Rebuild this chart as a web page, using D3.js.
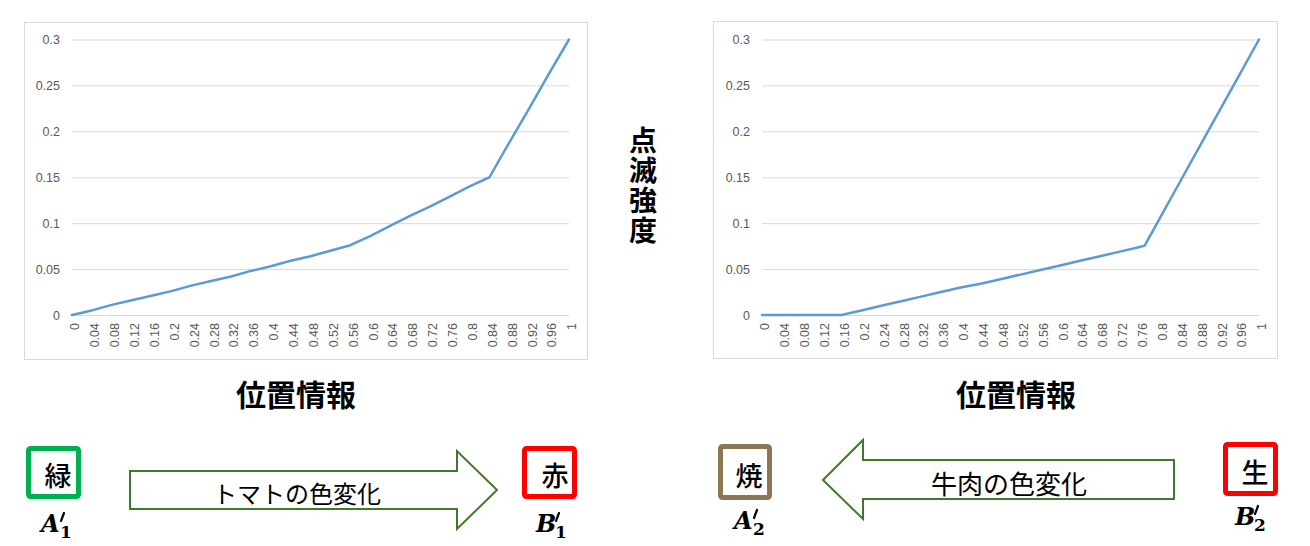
<!DOCTYPE html>
<html><head><meta charset="utf-8">
<script src="https://cdn.jsdelivr.net/npm/d3@7"></script>
<style>
html,body{margin:0;padding:0;background:#fff;}
svg{display:block;}
</style></head>
<body>
<svg id="c" width="1310" height="546"></svg>
<script>
// ---- data ----
const tickPositions = [0,0.04,0.08,0.12,0.16,0.2,0.24,0.28,0.32,0.36,0.4,0.44,0.48,0.52,0.56,0.6,0.64,0.68,0.72,0.76,0.8,0.84,0.88,0.92,0.96,1];
const tickLabels = ["0","0.04","0.08","0.12","0.16","0.2","0.24","0.28","0.32","0.36","0.4","0.44","0.48","0.52","0.56","0.6","0.64","0.68","0.72","0.76","0.8","0.84","0.88","0.92","0.96","1"];
const yTicks = [0,0.05,0.1,0.15,0.2,0.25,0.3];
const yTickLabels = ["0","0.05","0.1","0.15","0.2","0.25","0.3"];

const tomatoX = [0,0.04,0.08,0.12,0.16,0.2,0.24,0.28,0.32,0.36,0.4,0.44,0.48,0.52,0.56,0.6,0.64,0.68,0.72,0.76,0.8,0.84,0.88,0.92,0.96,1];
const tomatoY = [0,0.005,0.011,0.016,0.021,0.026,0.032,0.037,0.042,0.048,0.053,0.059,0.064,0.070,0.076,0.086,0.097,0.108,0.118,0.129,0.140,0.150,0.188,0.225,0.263,0.300];

const beefX = [0,0.04,0.08,0.12,0.16,0.2,0.24,0.28,0.32,0.36,0.4,0.44,0.48,0.52,0.56,0.6,0.64,0.68,0.72,0.76,0.77,0.8,0.84,0.88,0.92,0.96,1];
const beefY = [0,0,0,0,0,0.005,0.010,0.015,0.020,0.025,0.030,0.034,0.039,0.044,0.049,0.054,0.059,0.064,0.069,0.074,0.0755,0.105,0.144,0.183,0.222,0.261,0.300];

const xTitle = "位置情報";
const yTitle = "点滅強度";

const svg = d3.select("#c");
const jp = "'Noto Sans CJK JP','Noto Sans CJK SC',sans-serif";
const numFont = "'Liberation Sans','DejaVu Sans',sans-serif";

function chart(frame, xr, xs, ys) {
  const g = svg.append("g");
  g.append("rect").attr("x",frame[0]+0.5).attr("y",frame[1]+0.5).attr("width",frame[2]).attr("height",frame[3])
    .attr("fill","#fff").attr("stroke","#d9d9d9").attr("stroke-width",1);
  const x = d3.scaleLinear().domain([0,1]).range(xr);
  const y = d3.scaleLinear().domain([0,0.3]).range([315,39.5]);
  const yAxis = d3.axisLeft(y).tickValues(yTicks).tickSize(-(xr[1]-xr[0])).tickFormat((d,i)=>yTickLabels[i]).tickPadding(12);
  const ya = g.append("g").attr("transform",`translate(${xr[0]},0)`).call(yAxis);
  ya.select(".domain").remove();
  ya.selectAll(".tick line").attr("stroke","#d9d9d9").attr("stroke-width",1);
  ya.selectAll(".tick text").attr("fill","#595959").style("font-family",numFont).style("font-size","12.5px");
  const xAxis = d3.axisBottom(x).tickValues(tickPositions).tickSize(0).tickFormat((d,i)=>tickLabels[i]);
  const xa = g.append("g").attr("transform","translate(0,315)").call(xAxis);
  xa.select(".domain").remove();
  xa.selectAll(".tick text").attr("fill","#595959").style("font-family",numFont).style("font-size","12.5px")
    .attr("transform","rotate(-90)").attr("text-anchor","end").attr("x",-8).attr("y",0).attr("dy","0.35em")
    .attr("dx",0);
  xa.selectAll(".tick").attr("transform",d=>`translate(${x(d)+3},0)`);
  const line = d3.line().x((d,i)=>x(xs[i])).y(d=>y(d));
  g.append("path").datum(ys).attr("d",line).attr("fill","none").attr("stroke","#5b9bd5")
    .attr("stroke-width",2.5).attr("stroke-linejoin","round").attr("stroke-linecap","round");
}
chart([24,22,563,337],[72,569],tomatoX,tomatoY);
chart([713,21,564,337],[762,1259],beefX,beefY);

// axis titles
[296,1016].forEach(cx=>{
  svg.append("text").attr("x",cx).attr("y",406).attr("text-anchor","middle")
    .style("font-family",jp).style("font-weight","bold").style("font-size","30px").attr("fill","#000").text(xTitle);
});
svg.append("text").attr("x",643).attr("y",126)
  .style("writing-mode","vertical-rl").style("text-orientation","upright")
  .style("font-family",jp).style("font-weight","bold").style("font-size","28px").style("letter-spacing","2px")
  .attr("fill","#000").text(yTitle);

// arrows
const arrowR = [[130,471],[457,471],[457,451],[497,490],[457,529],[457,509],[130,509]];
const arrowL = [[1174,460],[863,460],[863,440],[823,480],[863,519],[863,499],[1174,499]];
[arrowR,arrowL].forEach(p=>{
  svg.append("path").attr("d",d3.line()(p)+"Z").attr("fill","#fff").attr("stroke","#3f7a2a").attr("stroke-width",2);
});
svg.append("text").attr("x",297).attr("y",503).attr("text-anchor","middle").style("font-family",jp)
  .style("font-size","24px").attr("fill","#000").text("トマトの色変化");
svg.append("text").attr("x",1009).attr("y",494).attr("text-anchor","middle").style("font-family",jp)
  .style("font-size","26px").attr("fill","#000").text("牛肉の色変化");

// boxes
const boxes = [
  {x:28.5,y:448.5,w:50,h:48,c:"#00b050",t:"緑",tx:58,ty:486,lab:"A",sub:"1",lx:41,ly:532},
  {x:524.5,y:448.5,w:50,h:48,c:"#ff0000",t:"赤",tx:555,ty:486,lab:"B",sub:"1",lx:536,ly:532},
  {x:720.5,y:446.5,w:49,h:51,c:"#8b7852",t:"焼",tx:749,ty:486,lab:"A",sub:"2",lx:734,ly:529},
  {x:1225.5,y:444.5,w:50,h:49,c:"#ff0000",t:"生",tx:1255,ty:483,lab:"B",sub:"2",lx:1235,ly:525}
];
const mf = "'DejaVu Serif','Liberation Serif',serif";
boxes.forEach(b=>{
  svg.append("rect").attr("x",b.x).attr("y",b.y).attr("width",b.w).attr("height",b.h).attr("rx",2)
    .attr("fill","#fff").attr("stroke",b.c).attr("stroke-width",5);
  svg.append("text").attr("x",b.tx).attr("y",b.ty).attr("text-anchor","middle").style("font-family",jp)
    .style("font-size","27px").style("font-weight","500").attr("fill","#000").text(b.t);
  svg.append("text").attr("x",b.lx).attr("y",b.ly).style("font-family",mf)
    .style("font-weight","bold").style("font-style","italic").style("font-size","24px").attr("fill","#000").text(b.lab);
  const aw = 19;
  // prime stroke
  svg.append("path").attr("d",`M${b.lx+aw+4},${b.ly-19} L${b.lx+aw+1},${b.ly-11}`)
    .attr("stroke","#000").attr("stroke-width",2.2).attr("stroke-linecap","round");
  svg.append("text").attr("x",b.lx+aw).attr("y",b.ly+6).style("font-family",mf).style("font-weight","bold")
    .style("font-size","17px").attr("fill","#000").text(b.sub);
});
</script>
</body></html>
